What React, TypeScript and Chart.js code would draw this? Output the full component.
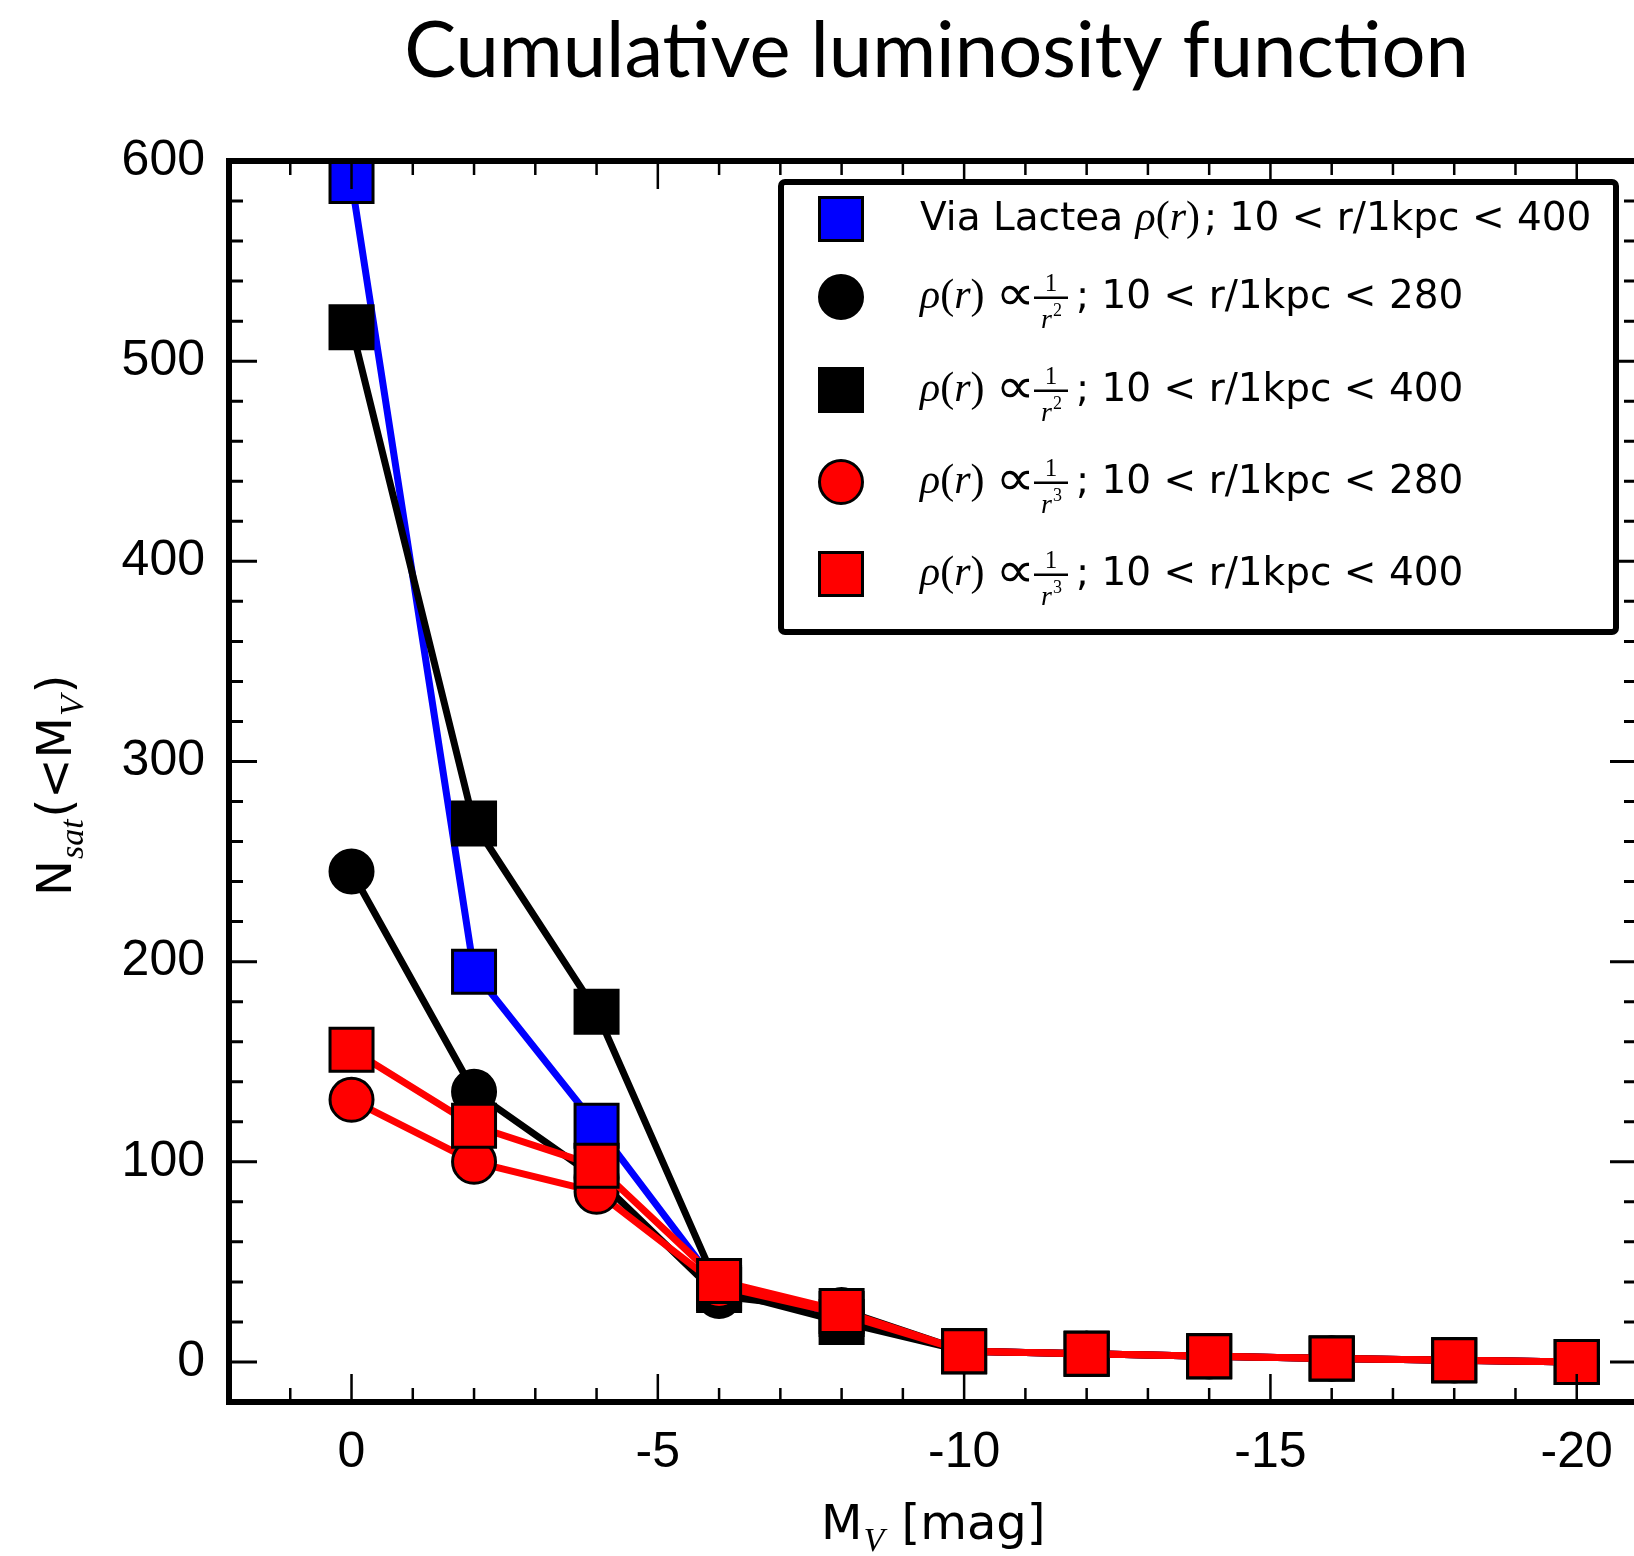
import React, { useEffect, useRef } from "react";
import { Chart, registerables } from "chart.js";

Chart.register(...registerables);

// ---------------- data ----------------
const MAGNITUDES = [0, -2, -4, -6, -8, -10, -12, -14, -16, -18, -20];
const VIA_LACTEA_400 = [590, 195, 118, 37, 24, 5.4, 4.1, 2.8, 1.7, 0.8, 0];
const R2_280 = [245, 135, 92, 33, 26, 5.4, 4.1, 2.8, 1.7, 0.8, 0];
const R2_400 = [517, 269, 175, 36, 20, 5.4, 4.1, 2.8, 1.7, 0.8, 0];
const R3_280 = [131, 100, 85, 38, 24, 5.4, 4.1, 2.8, 1.7, 0.8, 0];
const R3_400 = [156, 118, 98, 40.5, 25.5, 5.4, 4.1, 2.8, 1.7, 0.8, 0];

const X_TICKS = [0, -5, -10, -15, -20];
const Y_TICKS = [0, 100, 200, 300, 400, 500, 600];
const X_MIN = -21;
const X_MAX = 2;
const Y_MIN = -20;
const Y_MAX = 600;
const X_MINOR_STEP = 1;
const X_MAJOR_STEP = 5;
const Y_MINOR_STEP = 20;
const Y_MAJOR_STEP = 100;

const TITLE = "Cumulative luminosity function";
const RANGE_280 = "10 < r/1kpc < 280";
const RANGE_400 = "10 < r/1kpc < 400";

const SERIES = [
  { name: "Via Lactea", exponent: "", range: RANGE_400, values: VIA_LACTEA_400, color: "#0000ff", marker: "rect" },
  { name: "", exponent: "2", range: RANGE_280, values: R2_280, color: "#000000", marker: "circle" },
  { name: "", exponent: "2", range: RANGE_400, values: R2_400, color: "#000000", marker: "rect" },
  { name: "", exponent: "3", range: RANGE_280, values: R3_280, color: "#ff0000", marker: "circle" },
  { name: "", exponent: "3", range: RANGE_400, values: R3_400, color: "#ff0000", marker: "rect" },
];

// ---------------- layout / style ----------------
const W = 1660;
const H = 1556;
const AREA = { left: 229, top: 161, right: 1638, bottom: 1402 };
const MARKER_SIZE = 43;
const SANS = "DejaVu Sans";
const TICK_SANS = "Liberation Sans";
const SERIF = "Liberation Serif, DejaVu Serif";

function seriesLabel(s: any) {
  const head = s.name ? s.name + " ρ(r)" : "ρ(r) ∝ 1/r" + (s.exponent === "2" ? "²" : "³");
  return head + "; " + s.range;
}

function drawMarker(ctx: CanvasRenderingContext2D, kind: string, x: number, y: number, color: string) {
  ctx.save();
  ctx.fillStyle = color;
  ctx.strokeStyle = "#000";
  ctx.lineWidth = 3;
  ctx.beginPath();
  if (kind === "rect") {
    ctx.rect(x - MARKER_SIZE / 2, y - MARKER_SIZE / 2, MARKER_SIZE, MARKER_SIZE);
  } else {
    ctx.arc(x, y, MARKER_SIZE / 2, 0, Math.PI * 2);
  }
  ctx.fill();
  ctx.stroke();
  ctx.restore();
}

function put(ctx: CanvasRenderingContext2D, txt: string, x: number, y: number, font: string) {
  ctx.font = font;
  ctx.fillText(txt, x, y);
  return x + ctx.measureText(txt).width;
}

// draw a glyph so that its ink box fills the given rectangle
function putInk(ctx: CanvasRenderingContext2D, txt: string, x: number, y: number, w: number, h: number, font: string) {
  ctx.save();
  ctx.font = font;
  const m = ctx.measureText(txt);
  const iw = Math.max(1, m.actualBoundingBoxLeft + m.actualBoundingBoxRight);
  const ih = Math.max(1, m.actualBoundingBoxAscent + m.actualBoundingBoxDescent);
  ctx.translate(x, y + h);
  ctx.scale(w / iw, h / ih);
  ctx.fillText(txt, m.actualBoundingBoxLeft, -m.actualBoundingBoxDescent);
  ctx.restore();
}

const decorPlugin = {
  id: "decor",
  afterDraw(chart: any) {
    const ctx: CanvasRenderingContext2D = chart.ctx;
    const { left, top, right, bottom } = chart.chartArea;
    const xs = chart.scales.x;
    const ys = chart.scales.y;
    ctx.save();
    ctx.strokeStyle = "#000";
    ctx.fillStyle = "#000";
    ctx.lineCap = "butt";

    // x ticks (bottom & top, inward)
    ctx.lineWidth = 2.5;
    for (let v = X_MIN; v <= X_MAX; v += X_MINOR_STEP) {
      const px = xs.getPixelForValue(v);
      if (px <= left + 4 || px >= right - 4) continue;
      const len = Math.abs(v % X_MAJOR_STEP) === 0 ? 28 : 14;
      ctx.beginPath();
      ctx.moveTo(px, bottom);
      ctx.lineTo(px, bottom - len);
      ctx.moveTo(px, top);
      ctx.lineTo(px, top + len);
      ctx.stroke();
    }
    // y ticks (left & right, inward)
    ctx.lineWidth = 3;
    for (let v = Y_MIN; v <= Y_MAX; v += Y_MINOR_STEP) {
      const py = ys.getPixelForValue(v);
      if (py <= top + 4 || py >= bottom - 4) continue;
      const len = Math.abs(v % Y_MAJOR_STEP) === 0 ? 28 : 14;
      ctx.beginPath();
      ctx.moveTo(left, py);
      ctx.lineTo(left + len, py);
      ctx.moveTo(right, py);
      ctx.lineTo(right - len, py);
      ctx.stroke();
    }
    // spines
    ctx.lineWidth = 6;
    ctx.strokeRect(left, top, right - left, bottom - top);

    // legend
    const bx = 781, by = 182, bw = 835, bh = 450;
    ctx.fillStyle = "#fff";
    ctx.lineWidth = 6;
    ctx.beginPath();
    (ctx as any).roundRect(bx, by, bw, bh, 4);
    ctx.fill();
    ctx.stroke();
    const rows = [219, 297, 390, 482, 574];
    ctx.fillStyle = "#000";
    ctx.textBaseline = "alphabetic";
    ctx.textAlign = "left";
    SERIES.forEach((s, i) => {
      const cy = rows[i];
      drawMarker(ctx, s.marker, 841, cy, s.color);
      ctx.fillStyle = "#000";
      const base = cy + 11;
      let x = 920;
      if (s.name) x = put(ctx, s.name + " ", x, base, `39px ${SANS}`);
      x = put(ctx, "ρ", x, base, `italic 42px ${SERIF}`);
      x = put(ctx, "(", x, base, `42px ${SERIF}`);
      x = put(ctx, "r", x, base, `italic 42px ${SERIF}`);
      x = put(ctx, ")", x, base, `42px ${SERIF}`);
      if (s.exponent) {
        putInk(ctx, "∝", 1001, cy - 12, 29, 20, "40px DejaVu Sans");
        x = 1034;
        const fw = 34;
        ctx.fillRect(x, cy - 0.5, fw, 2.5);
        ctx.font = `25px ${SERIF}`;
        const nw = ctx.measureText("1").width;
        ctx.fillText("1", x + fw / 2 - nw / 2, cy - 6);
        ctx.font = `italic 28px ${SERIF}`;
        const rw = ctx.measureText("r").width;
        ctx.font = `18px ${SERIF}`;
        const ew = ctx.measureText(s.exponent).width;
        const dx = x + fw / 2 - (rw + ew) / 2;
        put(ctx, "r", dx, cy + 31, `italic 28px ${SERIF}`);
        put(ctx, s.exponent, dx + rw + 1, cy + 19, `18px ${SERIF}`);
        x = 1076;
      } else {
        x += 4;
      }
      put(ctx, "; " + s.range, x, base, `39px ${SANS}`);
    });

    // title
    let fs = 84;
    ctx.font = `${fs}px Lato`;
    fs = (fs * 1065) / ctx.measureText(TITLE).width;
    ctx.font = `${fs}px Lato`;
    ctx.textAlign = "center";
    ctx.fillText(TITLE, 936.5, 77);
    ctx.textAlign = "left";

    // x-axis title: M_V [mag]
    let tx = 821;
    tx = put(ctx, "M", tx, 1539, `48px ${SANS}`);
    tx = put(ctx, "V", tx + 1, 1551, `italic 34px ${SERIF}`);
    put(ctx, " [mag]", tx + 2, 1539, `48px ${SANS}`);

    // y-axis title: N_sat(<M_V)
    ctx.save();
    ctx.translate(71, 896);
    ctx.rotate(-Math.PI / 2);
    let ty = 0;
    ty = put(ctx, "N", ty, 0, `48px ${SANS}`);
    ty = put(ctx, "sat", ty + 1, 12, `italic 34px ${SERIF}`);
    ty = put(ctx, "(<M", ty + 2, 0, `48px ${SANS}`);
    ty = put(ctx, "V", ty + 1, 12, `italic 34px ${SERIF}`);
    put(ctx, ")", ty + 2, 0, `48px ${SANS}`);
    ctx.restore();

    ctx.restore();
  },
};

export default function App() {
  const ref = useRef<HTMLCanvasElement>(null);
  useEffect(() => {
    const canvas = ref.current;
    if (!canvas) return;
    const datasets = SERIES.map((s, i) => ({
      label: seriesLabel(s),
      data: MAGNITUDES.map((m, j) => ({ x: m, y: s.values[j] })),
      borderColor: s.color,
      backgroundColor: s.color,
      borderWidth: 7,
      borderJoinStyle: "round" as const,
      borderCapStyle: "round" as const,
      pointStyle: s.marker,
      pointRadius: s.marker === "rect" ? MARKER_SIZE / Math.SQRT2 : MARKER_SIZE / 2,
      pointHoverRadius: s.marker === "rect" ? MARKER_SIZE / Math.SQRT2 : MARKER_SIZE / 2,
      pointBackgroundColor: s.color,
      pointBorderColor: "#000",
      pointBorderWidth: 3,
      tension: 0,
      order: SERIES.length - i,
    }));
    const chart = new Chart(canvas, {
      type: "line",
      data: { datasets },
      options: {
        responsive: false,
        animation: false,
        devicePixelRatio: 1,
        events: [],
        layout: {
          autoPadding: false,
          padding: { left: 0, top: AREA.top, right: W - AREA.right, bottom: 0 },
        },
        plugins: {
          legend: { display: false },
          tooltip: { enabled: false },
          title: { display: false },
        },
        scales: {
          x: {
            type: "linear",
            reverse: true,
            min: X_MIN,
            max: X_MAX,
            afterBuildTicks: (s: any) => {
              s.ticks = X_TICKS.map((v) => ({ value: v }));
            },
            afterFit: (s: any) => {
              s.height = H - AREA.bottom;
              s.paddingLeft = 0;
              s.paddingRight = 0;
            },
            grid: { display: false, drawTicks: false },
            border: { display: false },
            ticks: {
              autoSkip: false,
              maxRotation: 0,
              padding: 21,
              color: "#000",
              font: { family: TICK_SANS, size: 50 },
              callback: (v: any) => String(v),
            },
          },
          y: {
            type: "linear",
            min: Y_MIN,
            max: Y_MAX,
            afterBuildTicks: (s: any) => {
              s.ticks = Y_TICKS.map((v) => ({ value: v }));
            },
            afterFit: (s: any) => {
              s.width = AREA.left;
              s.paddingTop = 0;
              s.paddingBottom = 0;
            },
            grid: { display: false, drawTicks: false },
            border: { display: false },
            ticks: {
              autoSkip: false,
              padding: 24,
              color: "#000",
              font: { family: TICK_SANS, size: 50 },
              callback: (v: any) => String(v),
            },
          },
        },
      },
      plugins: [decorPlugin],
    } as any);
    return () => chart.destroy();
  }, []);
  return (
    <div
      style={{
        position: "fixed",
        left: 0,
        top: 0,
        width: "100vw",
        height: "100vh",
        overflow: "hidden",
        background: "#fff",
      }}
    >
      <canvas ref={ref} width={W} height={H} style={{ display: "block", width: W, height: H }} />
    </div>
  );
}
